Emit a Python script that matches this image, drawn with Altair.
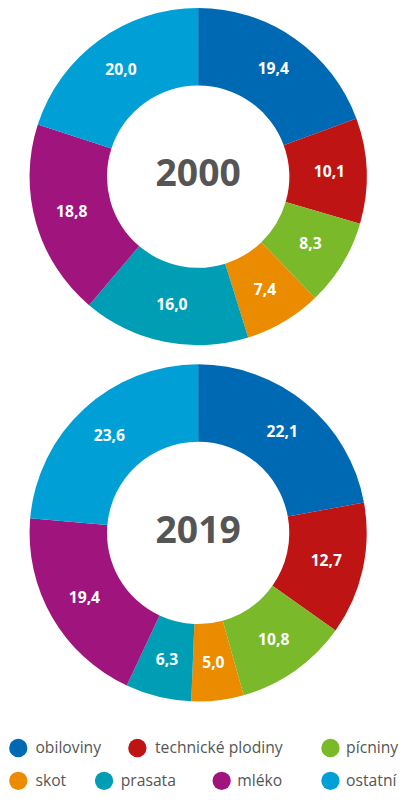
import altair as alt
import pandas as pd

# ---- data ----
categories = ["obiloviny", "technické plodiny", "pícniny", "skot", "prasata", "mléko", "ostatní"]
values_2000 = [19.4, 10.1, 8.3, 7.4, 16.0, 18.8, 20.0]
values_2019 = [22.1, 12.7, 10.8, 5.0, 6.3, 19.4, 23.6]
years = ["2000", "2019"]
colors = ["#0069B4", "#BE1414", "#7AB929", "#EB8C00", "#009EB4", "#A0147D", "#00A0D7"]

rows = []
for year, vals in zip(years, [values_2000, values_2019]):
    for i, (c, v) in enumerate(zip(categories, vals)):
        rows.append({"year": year, "cat": c, "idx": i, "value": v,
                     "label": f"{v:.1f}".replace(".", ",")})
df = pd.DataFrame(rows)

# ---- layout (pixels inside the plot area) ----
W, H = 401, 792
CX = 194
CY = {"2000": 164, "2019": 527.5}
YEAR_BASELINE = {"2000": 174, "2019": 538}
R_OUT, R_IN, R_LAB = 172, 93, 134
FONT = "Open Sans"
GREY = "#555555"

# legend layout: (circle x, text x, row y) per category
legend_layout = [(10.5, 28, 747), (132, 150, 747), (329, 345, 747),
                 (10.5, 28, 780.5), (98, 115, 780.5), (218, 234, 780.5), (329, 345, 780.5)]

color_scale = alt.Scale(domain=categories, range=colors)

layers = []
for year in years:
    base = alt.Chart(df).transform_filter(alt.datum.year == year).encode(
        theta=alt.Theta("value:Q", stack="normalize"),
        order=alt.Order("idx:Q"),
    )
    arcs = base.mark_arc(radius=R_OUT, radius2=R_IN, x=CX, y=CY[year]).encode(
        color=alt.Color("cat:N", scale=color_scale, legend=None)
    )
    labels = base.mark_text(
        radius=R_LAB, x=CX, y=CY[year], font=FONT, fontSize=16, fontWeight="bold",
        color="white", baseline="middle", align="center"
    ).encode(text="label:N")
    center = alt.Chart(pd.DataFrame({"year": [year]})).mark_text(
        x=CX, y=YEAR_BASELINE[year], font=FONT, fontSize=38, fontWeight="bold",
        color=GREY, baseline="alphabetic", align="center"
    ).encode(text="year:N")
    layers += [arcs, labels, center]

cat_df = pd.DataFrame({"cat": categories})
for c, (cx, tx, ry) in zip(categories, legend_layout):
    sub = alt.Chart(cat_df).transform_filter(alt.datum.cat == c)
    dot = sub.mark_circle(size=350, opacity=1, x=cx, y=ry).encode(
        color=alt.Color("cat:N", scale=color_scale, legend=None)
    )
    txt = sub.mark_text(x=tx, y=ry, font=FONT, fontSize=16, color=GREY,
                        align="left", baseline="middle").encode(text="cat:N")
    layers += [dot, txt]

chart = alt.layer(*layers).properties(
    width=W, height=H, autosize=alt.AutoSizeParams(type="none"), padding=0,
    background="white"
).configure_view(stroke=None)

chart.save("out.html", embed_options={"renderer": "svg", "actions": False})
